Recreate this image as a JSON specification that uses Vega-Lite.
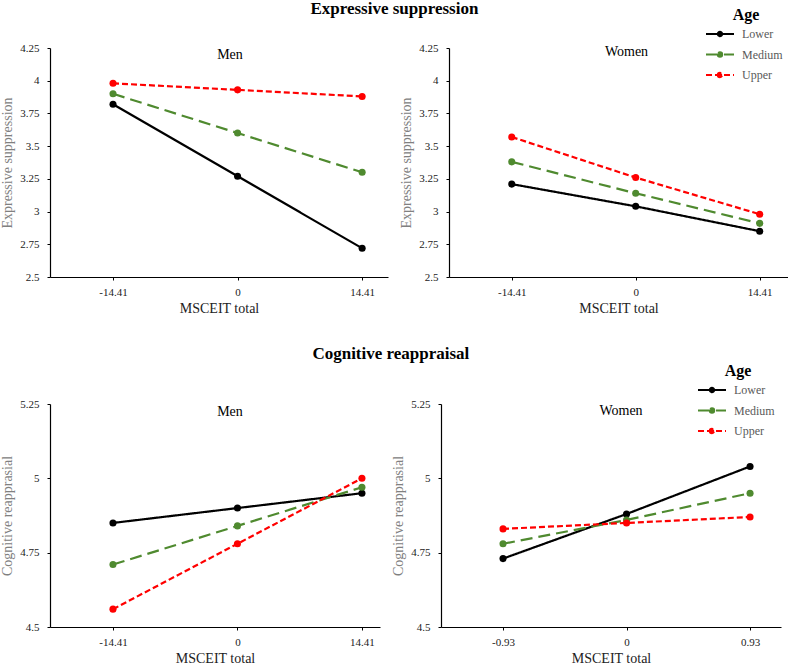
{
  "$schema": "https://vega.github.io/schema/vega-lite/v6.json",
  "padding": {"left": 0, "top": 0, "right": 0, "bottom": 0},
  "background": "white",
  "datasets": {
    "d": [
      {"outcome": "ES", "sex": "Men", "msceit": -14.41, "age": "Lower", "value": 3.82},
      {"outcome": "ES", "sex": "Men", "msceit": 0, "age": "Lower", "value": 3.27},
      {"outcome": "ES", "sex": "Men", "msceit": 14.41, "age": "Lower", "value": 2.72},
      {"outcome": "ES", "sex": "Men", "msceit": -14.41, "age": "Medium", "value": 3.9},
      {"outcome": "ES", "sex": "Men", "msceit": 0, "age": "Medium", "value": 3.6},
      {"outcome": "ES", "sex": "Men", "msceit": 14.41, "age": "Medium", "value": 3.3},
      {"outcome": "ES", "sex": "Men", "msceit": -14.41, "age": "Upper", "value": 3.98},
      {"outcome": "ES", "sex": "Men", "msceit": 0, "age": "Upper", "value": 3.93},
      {"outcome": "ES", "sex": "Men", "msceit": 14.41, "age": "Upper", "value": 3.88},
      {"outcome": "ES", "sex": "Women", "msceit": -14.41, "age": "Lower", "value": 3.21},
      {"outcome": "ES", "sex": "Women", "msceit": 0, "age": "Lower", "value": 3.04},
      {"outcome": "ES", "sex": "Women", "msceit": 14.41, "age": "Lower", "value": 2.85},
      {"outcome": "ES", "sex": "Women", "msceit": -14.41, "age": "Medium", "value": 3.38},
      {"outcome": "ES", "sex": "Women", "msceit": 0, "age": "Medium", "value": 3.14},
      {"outcome": "ES", "sex": "Women", "msceit": 14.41, "age": "Medium", "value": 2.91},
      {"outcome": "ES", "sex": "Women", "msceit": -14.41, "age": "Upper", "value": 3.57},
      {"outcome": "ES", "sex": "Women", "msceit": 0, "age": "Upper", "value": 3.26},
      {"outcome": "ES", "sex": "Women", "msceit": 14.41, "age": "Upper", "value": 2.98},
      {"outcome": "CR", "sex": "Men", "msceit": -14.41, "age": "Lower", "value": 4.85},
      {"outcome": "CR", "sex": "Men", "msceit": 0, "age": "Lower", "value": 4.9},
      {"outcome": "CR", "sex": "Men", "msceit": 14.41, "age": "Lower", "value": 4.95},
      {"outcome": "CR", "sex": "Men", "msceit": -14.41, "age": "Medium", "value": 4.71},
      {"outcome": "CR", "sex": "Men", "msceit": 0, "age": "Medium", "value": 4.84},
      {"outcome": "CR", "sex": "Men", "msceit": 14.41, "age": "Medium", "value": 4.97},
      {"outcome": "CR", "sex": "Men", "msceit": -14.41, "age": "Upper", "value": 4.56},
      {"outcome": "CR", "sex": "Men", "msceit": 0, "age": "Upper", "value": 4.78},
      {"outcome": "CR", "sex": "Men", "msceit": 14.41, "age": "Upper", "value": 5.0},
      {"outcome": "CR", "sex": "Women", "msceit": -0.93, "age": "Lower", "value": 4.73},
      {"outcome": "CR", "sex": "Women", "msceit": 0, "age": "Lower", "value": 4.88},
      {"outcome": "CR", "sex": "Women", "msceit": 0.93, "age": "Lower", "value": 5.04},
      {"outcome": "CR", "sex": "Women", "msceit": -0.93, "age": "Medium", "value": 4.78},
      {"outcome": "CR", "sex": "Women", "msceit": 0, "age": "Medium", "value": 4.86},
      {"outcome": "CR", "sex": "Women", "msceit": 0.93, "age": "Medium", "value": 4.95},
      {"outcome": "CR", "sex": "Women", "msceit": -0.93, "age": "Upper", "value": 4.83},
      {"outcome": "CR", "sex": "Women", "msceit": 0, "age": "Upper", "value": 4.85},
      {"outcome": "CR", "sex": "Women", "msceit": 0.93, "age": "Upper", "value": 4.87}
    ]
  },
  "vconcat": [
    {
      "title": {"text": "Expressive suppression", "fontSize": 17, "fontWeight": "bold", "anchor": "middle", "color": "black", "offset": -11},
      "spacing": 11,
      "resolve": {"scale": {"color": "independent", "strokeDash": "independent"}, "legend": {"color": "independent", "strokeDash": "independent"}},
      "hconcat": [
        {
          "width": 338, "height": 229,
          "title": {"text": "Men", "offset": -20, "dx": 11, "frame": "group", "fontSize": 14, "fontWeight": "normal", "anchor": "middle", "color": "black"},
          "data": {"name": "d"},
          "transform": [{"filter": "datum.outcome == 'ES' && datum.sex == 'Men'"}],
          "encoding": {
            "x": {"field": "msceit", "type": "quantitative", "scale": {"domain": [-21.7, 17.4], "nice": false, "zero": false},
                  "axis": {"values": [-14.41, 0, 14.41], "title": "MSCEIT total", "labelExpr": "datum.value == 0 ? '0' : (datum.value < 0 ? '-' + format(-datum.value, '.2f') : format(datum.value, '.2f'))"}},
            "y": {"field": "value", "type": "quantitative", "scale": {"domain": [2.5, 4.25], "nice": false, "zero": false},
                  "axis": {"values": [2.5, 2.75, 3, 3.25, 3.5, 3.75, 4, 4.25], "format": ".2~f", "title": "Expressive suppression"}},
            "color": {"field": "age", "type": "nominal", "scale": {"domain": ["Lower", "Medium", "Upper"], "range": ["#000000", "#4f8a2f", "#ff0000"]}, "legend": null}
          },
          "layer": [
            {"mark": {"type": "line", "strokeWidth": 2.2}, "encoding": {"strokeDash": {"field": "age", "type": "nominal", "scale": {"domain": ["Lower", "Medium", "Upper"], "range": [[1, 0], [12, 6], [6, 3]]}, "legend": null}}},
            {"mark": {"type": "circle", "size": 50, "opacity": 1}}
          ]
        },
        {
          "width": 339, "height": 229,
          "title": {"text": "Women", "offset": -52, "dx": 8, "frame": "group", "fontSize": 14, "fontWeight": "normal", "anchor": "middle", "color": "black"},
          "data": {"name": "d"},
          "transform": [{"filter": "datum.outcome == 'ES' && datum.sex == 'Women'"}],
          "encoding": {
            "x": {"field": "msceit", "type": "quantitative", "scale": {"domain": [-21.7, 17.7], "nice": false, "zero": false},
                  "axis": {"values": [-14.41, 0, 14.41], "title": "MSCEIT total", "labelExpr": "datum.value == 0 ? '0' : (datum.value < 0 ? '-' + format(-datum.value, '.2f') : format(datum.value, '.2f'))"}},
            "y": {"field": "value", "type": "quantitative", "scale": {"domain": [2.5, 4.25], "nice": false, "zero": false},
                  "axis": {"values": [2.5, 2.75, 3, 3.25, 3.5, 3.75, 4, 4.25], "format": ".2~f", "title": "Expressive suppression"}},
            "color": {"field": "age", "type": "nominal", "scale": {"domain": ["Lower", "Medium", "Upper"], "range": ["#000000", "#4f8a2f", "#ff0000"]},
                      "legend": {"title": "Age", "orient": "none", "legendX": 260, "legendY": -41}}
          },
          "layer": [
            {"mark": {"type": "line", "strokeWidth": 2.2}, "encoding": {"strokeDash": {"field": "age", "type": "nominal", "scale": {"domain": ["Lower", "Medium", "Upper"], "range": [[1, 0], [12, 6], [6, 3]]},
              "legend": {"title": "Age", "orient": "none", "legendX": 260, "legendY": -41}}}},
            {"mark": {"type": "circle", "size": 50, "opacity": 1}}
          ]
        }
      ]
    },
    {
      "title": {"text": "Cognitive reappraisal", "fontSize": 17, "fontWeight": "bold", "anchor": "middle", "color": "black", "offset": 0},
      "spacing": 11,
      "resolve": {"scale": {"color": "independent", "strokeDash": "independent"}, "legend": {"color": "independent", "strokeDash": "independent"}},
      "hconcat": [
        {
          "width": 330, "height": 223,
          "title": {"text": "Men", "offset": -21, "dx": 15, "frame": "group", "fontSize": 14, "fontWeight": "normal", "anchor": "middle", "color": "black"},
          "data": {"name": "d"},
          "transform": [{"filter": "datum.outcome == 'CR' && datum.sex == 'Men'"}],
          "encoding": {
            "x": {"field": "msceit", "type": "quantitative", "scale": {"domain": [-21.7, 16.5], "nice": false, "zero": false},
                  "axis": {"values": [-14.41, 0, 14.41], "title": "MSCEIT total", "labelExpr": "datum.value == 0 ? '0' : (datum.value < 0 ? '-' + format(-datum.value, '.2f') : format(datum.value, '.2f'))"}},
            "y": {"field": "value", "type": "quantitative", "scale": {"domain": [4.5, 5.25], "nice": false, "zero": false},
                  "axis": {"values": [4.5, 4.75, 5, 5.25], "format": ".2~f", "title": "Cognitive reapprasial"}},
            "color": {"field": "age", "type": "nominal", "scale": {"domain": ["Lower", "Medium", "Upper"], "range": ["#000000", "#4f8a2f", "#ff0000"]}, "legend": null}
          },
          "layer": [
            {"mark": {"type": "line", "strokeWidth": 2.2}, "encoding": {"strokeDash": {"field": "age", "type": "nominal", "scale": {"domain": ["Lower", "Medium", "Upper"], "range": [[1, 0], [12, 6], [6, 3]]}, "legend": null}}},
            {"mark": {"type": "circle", "size": 50, "opacity": 1}}
          ]
        },
        {
          "width": 340, "height": 223,
          "title": {"text": "Women", "offset": -55, "dx": 10, "frame": "group", "fontSize": 14, "fontWeight": "normal", "anchor": "middle", "color": "black"},
          "data": {"name": "d"},
          "transform": [{"filter": "datum.outcome == 'CR' && datum.sex == 'Women'"}],
          "encoding": {
            "x": {"field": "msceit", "type": "quantitative", "scale": {"domain": [-1.397, 1.163], "nice": false, "zero": false},
                  "axis": {"values": [-0.93, 0, 0.93], "title": "MSCEIT total", "labelExpr": "datum.value == 0 ? '0' : (datum.value < 0 ? '-' + format(-datum.value, '.2f') : format(datum.value, '.2f'))"}},
            "y": {"field": "value", "type": "quantitative", "scale": {"domain": [4.5, 5.25], "nice": false, "zero": false},
                  "axis": {"values": [4.5, 4.75, 5, 5.25], "format": ".2~f", "title": "Cognitive reapprasial"}},
            "color": {"field": "age", "type": "nominal", "scale": {"domain": ["Lower", "Medium", "Upper"], "range": ["#000000", "#4f8a2f", "#ff0000"]},
                      "legend": {"title": "Age", "orient": "none", "legendX": 260, "legendY": -41}}
          },
          "layer": [
            {"mark": {"type": "line", "strokeWidth": 2.2}, "encoding": {"strokeDash": {"field": "age", "type": "nominal", "scale": {"domain": ["Lower", "Medium", "Upper"], "range": [[1, 0], [12, 6], [6, 3]]},
              "legend": {"title": "Age", "orient": "none", "legendX": 260, "legendY": -41}}}},
            {"mark": {"type": "circle", "size": 50, "opacity": 1}}
          ]
        }
      ]
    }
  ],
  "spacing": 30,
  "resolve": {"scale": {"color": "independent", "strokeDash": "independent", "x": "independent", "y": "independent"}, "legend": {"color": "independent", "strokeDash": "independent"}},
  "config": {
    "font": "Liberation Serif",
    "view": {"stroke": null},
    "title": {"font": "Liberation Serif"},
    "axis": {"labelFont": "Liberation Serif", "titleFont": "Liberation Serif", "labelFontSize": 11, "titleFontSize": 14, "titleFontWeight": "normal",
             "domainColor": "#000000", "tickColor": "#000000", "labelColor": "#222222", "grid": false, "tickSize": 3, "domainWidth": 1.2},
    "axisX": {"titleColor": "#222222", "labelPadding": 6, "titlePadding": 4},
    "axisY": {"titleColor": "#808080", "labelPadding": 8, "titlePadding": 5},
    "legend": {"labelFont": "Liberation Serif", "titleFont": "Liberation Serif", "labelFontSize": 12, "labelColor": "#595959", "titleFontSize": 16, "titleFontWeight": "bold", "titleColor": "#000000",
               "symbolType": "M-1.4,0L1.4,0M-0.22,0A0.22,0.22,0,1,0,0.22,0A0.22,0.22,0,1,0,-0.22,0", "symbolSize": 400, "symbolStrokeWidth": 2, "titleAnchor": "middle", "titlePadding": 0, "rowPadding": 2.5, "labelOffset": 11}
  }
}
